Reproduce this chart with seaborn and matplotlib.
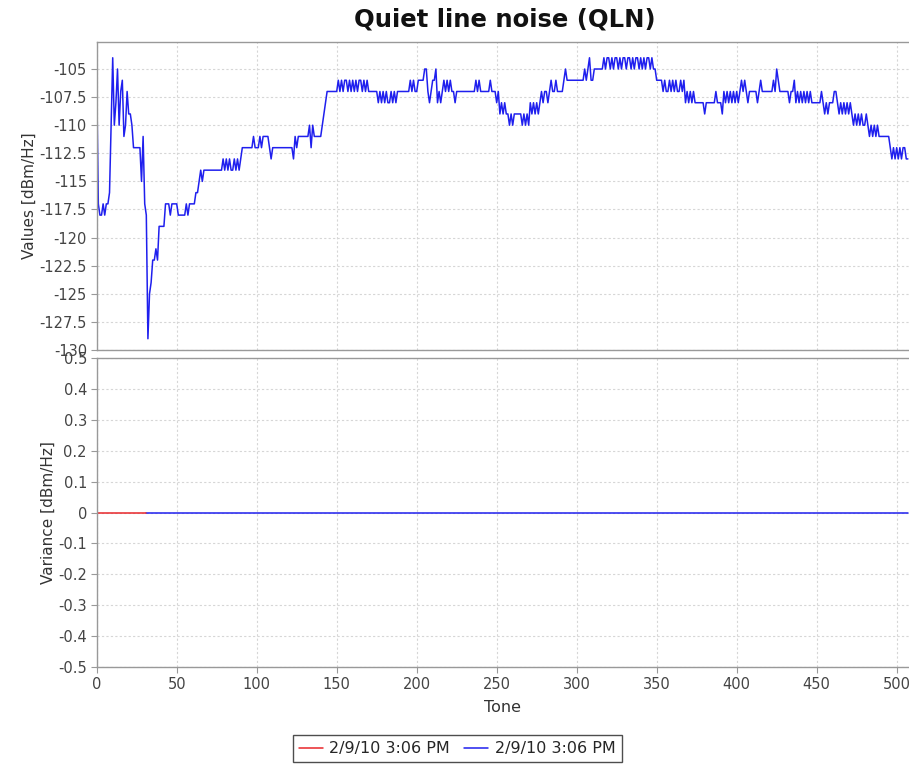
import numpy as np
import pandas as pd
import seaborn as sns
from matplotlib import pyplot as plt
from matplotlib.ticker import FuncFormatter, MultipleLocator

# QLN per tone (dBm/Hz)
qln_values = [
    -106, -117, -118, -118, -117, -118, -117, -117, -116, -110,
    -104, -110, -108, -105, -110, -107, -106, -111, -110, -107,
    -109, -109, -110, -112, -112, -112, -112, -112, -115, -111,
    -117, -118, -129, -125, -124, -122, -122, -121, -122, -119,
    -119, -119, -119, -117, -117, -117, -118, -117, -117, -117,
    -117, -118, -118, -118, -118, -118, -117, -118, -117, -117,
    -117, -117, -116, -116, -115, -114, -115, -114, -114, -114,
    -114, -114, -114, -114, -114, -114, -114, -114, -114, -113,
    -114, -113, -114, -113, -114, -114, -113, -114, -113, -114,
    -113, -112, -112, -112, -112, -112, -112, -112, -111, -112,
    -112, -112, -111, -112, -111, -111, -111, -111, -112, -113,
    -112, -112, -112, -112, -112, -112, -112, -112, -112, -112,
    -112, -112, -112, -113, -111, -112, -111, -111, -111, -111,
    -111, -111, -111, -110, -112, -110, -111, -111, -111, -111,
    -111, -110, -109, -108, -107, -107, -107, -107, -107, -107,
    -107, -106, -107, -106, -107, -106, -106, -107, -106, -107,
    -106, -107, -106, -107, -106, -106, -107, -106, -107, -106,
    -107, -107, -107, -107, -107, -107, -108, -107, -108, -107,
    -108, -107, -108, -108, -107, -108, -107, -108, -107, -107,
    -107, -107, -107, -107, -107, -107, -106, -107, -106, -107,
    -107, -106, -106, -106, -106, -105, -105, -107, -108, -107,
    -106, -106, -105, -108, -107, -108, -107, -106, -107, -106,
    -107, -106, -107, -107, -108, -107, -107, -107, -107, -107,
    -107, -107, -107, -107, -107, -107, -107, -106, -107, -106,
    -107, -107, -107, -107, -107, -107, -106, -107, -107, -107,
    -108, -107, -109, -108, -109, -108, -109, -109, -110, -109,
    -110, -109, -109, -109, -109, -109, -110, -109, -110, -109,
    -110, -108, -109, -108, -109, -108, -109, -108, -107, -108,
    -107, -107, -108, -107, -106, -107, -107, -106, -107, -107,
    -107, -107, -106, -105, -106, -106, -106, -106, -106, -106,
    -106, -106, -106, -106, -106, -105, -106, -105, -104, -106,
    -106, -105, -105, -105, -105, -105, -105, -104, -105, -104,
    -104, -105, -104, -105, -104, -104, -105, -104, -105, -104,
    -104, -105, -104, -104, -105, -104, -105, -104, -104, -105,
    -104, -105, -104, -105, -104, -104, -105, -104, -105, -105,
    -106, -106, -106, -106, -107, -106, -107, -107, -106, -107,
    -106, -107, -106, -107, -107, -106, -107, -106, -108, -107,
    -108, -107, -108, -107, -108, -108, -108, -108, -108, -108,
    -109, -108, -108, -108, -108, -108, -108, -107, -108, -108,
    -108, -109, -107, -108, -107, -108, -107, -108, -107, -108,
    -107, -108, -107, -106, -107, -106, -107, -108, -107, -107,
    -107, -107, -107, -108, -107, -106, -107, -107, -107, -107,
    -107, -107, -107, -106, -107, -105, -106, -107, -107, -107,
    -107, -107, -107, -108, -107, -107, -106, -108, -107, -108,
    -107, -108, -107, -108, -107, -108, -107, -108, -108, -108,
    -108, -108, -108, -107, -108, -109, -108, -109, -108, -108,
    -108, -107, -107, -108, -109, -108, -109, -108, -109, -108,
    -109, -108, -109, -110, -109, -110, -109, -110, -109, -110,
    -110, -109, -110, -111, -110, -111, -110, -111, -110, -111,
    -111, -111, -111, -111, -111, -111, -112, -113, -112, -113,
    -112, -113, -112, -113, -112, -112, -113, -113,
]
tones = list(range(len(qln_values)))

# variance series: red run covers the first tones, blue the rest
red_var_tones = list(range(0, 32))
red_var_values = [0.0] * len(red_var_tones)
blue_var_tones = list(range(31, len(qln_values)))
blue_var_values = [0.0] * len(blue_var_tones)

legend_labels = ["2/9/10 3:06 PM", "2/9/10 3:06 PM"]
values_ticks = [-105, -107.5, -110, -112.5, -115, -117.5, -120, -122.5, -125, -127.5, -130]

sns.set_style("whitegrid")
plt.rcParams['font.family'] = ['DejaVu Sans']
plt.rcParams['axes.unicode_minus'] = False

blue = "#1f1fee"
red = "#e8262a"
gridc = "#d6d6d6"
tickc = "#444444"
spinec = "#999999"

fig = plt.figure(figsize=(9.09, 7.67), dpi=100)
ax1 = fig.add_axes([0.1064, 0.5437, 0.8936, 0.4015])
ax2 = fig.add_axes([0.1064, 0.1304, 0.8936, 0.4028])

df_top = pd.DataFrame({"tone": tones, "qln": qln_values})
sns.lineplot(data=df_top, x="tone", y="qln", ax=ax1, color=blue, lw=1.1, estimator=None)

sns.lineplot(x=blue_var_tones, y=blue_var_values, ax=ax2, color=blue, lw=1.1, estimator=None)
sns.lineplot(x=red_var_tones, y=red_var_values, ax=ax2, color=red, lw=1.1, estimator=None)

fmt = FuncFormatter(lambda v, p: ("%g" % round(v, 2)))
for ax in (ax1, ax2):
    ax.set_xlim(0, 507.7)
    ax.xaxis.set_major_locator(MultipleLocator(50))
    ax.grid(True, color=gridc, linestyle=(0, (2, 2)), linewidth=0.8)
    for s in ax.spines.values():
        s.set_color(spinec)
        s.set_linewidth(1.0)
    ax.spines['right'].set_visible(False)
    ax.tick_params(axis='both', colors=spinec, labelcolor=tickc, labelsize=10.5,
                   length=4, width=0.8, direction='out', left=True, bottom=True, pad=3)
    ax.yaxis.set_major_formatter(fmt)

ax1.set_ylim(-130, -102.6)
ax1.set_yticks(values_ticks)
ax1.tick_params(axis='x', bottom=False, labelbottom=False)
ax1.set_xlabel("")
ax1.set_ylabel("Values [dBm/Hz]", fontsize=11, color="#333333", labelpad=2)

ax2.set_ylim(-0.5, 0.5)
ax2.yaxis.set_major_locator(MultipleLocator(0.1))
ax2.set_xlabel("Tone", fontsize=11.5, color="#333333", labelpad=6)
ax2.set_ylabel("Variance [dBm/Hz]", fontsize=11, color="#333333", labelpad=2)

fig.text(0.555, 0.974, "Quiet line noise (QLN)", ha="center", va="center",
         fontsize=17.5, fontweight="bold", color="#111111")

handles = [ax2.lines[1], ax2.lines[0]]
leg = fig.legend(handles, legend_labels, loc="center", bbox_to_anchor=(0.503, 0.024),
                 ncol=2, fontsize=11.5, frameon=True, fancybox=False,
                 handlelength=1.5, handletextpad=0.4, columnspacing=0.9,
                 borderpad=0.4, borderaxespad=0)
leg.get_frame().set_edgecolor("#222222")
leg.get_frame().set_linewidth(1.0)

fig.savefig("out.png", dpi=100)
